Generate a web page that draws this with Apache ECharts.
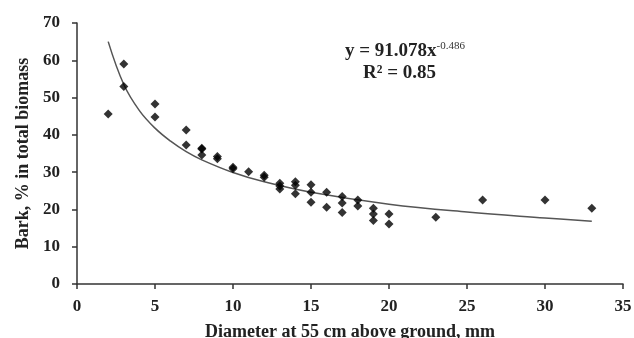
<!DOCTYPE html>
<html>
<head>
<meta charset="utf-8">
<script src="https://cdn.jsdelivr.net/npm/echarts@6/dist/echarts.min.js"></script>
<style>
  html, body { margin: 0; padding: 0; background: #fff; }
  #chart { width: 634px; height: 338px; }
</style>
</head>
<body>
<div id="chart"></div>
<script>
// measured points: diameter (mm) and bark share (%)
const diameter = [2, 3, 3, 5, 5, 7, 7, 8, 8, 8, 9, 9, 10, 10, 11, 12, 12,
  13, 13, 13, 14, 14, 14, 15, 15, 15, 16, 16, 17, 17, 17, 18, 18,
  19, 19, 19, 20, 20, 23, 26, 30, 33]
const barkShare = [45.6, 59, 53, 48.3, 44.8, 41.3, 37.3, 36.4, 36.2, 34.6, 34.2, 33.6, 31.3, 30.9, 30.1, 29.2, 28.6,
  27.0, 26.3, 25.5, 27.4, 26.5, 24.2, 26.6, 24.6, 21.9, 24.6, 20.6, 23.5, 21.7, 19.2, 22.5, 20.9,
  20.3, 18.8, 17.0, 18.8, 16.1, 17.9, 22.5, 22.5, 20.3]

// trend curve
const trendX = [2, 3, 4, 5, 6, 7, 8, 10, 12, 15, 20, 25, 30, 33]
const trendY = [65, 53.5, 46.5, 41.8, 38.3, 35.5, 33.3, 29.9, 27.4, 24.6, 21.4, 19.3, 17.7, 16.8]

const xTicks = [0, 35, 5]
const yTicks = [0, 70, 10]

const font = 'Liberation Serif'

const chart = echarts.init(document.getElementById('chart'))

const option = {
  backgroundColor: '#fff',
  animation: false,
  grid: { left: 77, right: 11, top: 23, bottom: 54, outerBoundsMode: 'none', containLabel: false },
  xAxis: {
    type: 'value',
    min: xTicks[0],
    max: xTicks[1],
    interval: xTicks[2],
    name: 'Diameter at 55 cm above ground, mm',
    nameLocation: 'middle',
    nameGap: 39,
    nameTextStyle: { fontFamily: font, fontWeight: 'bold', fontSize: 18, color: '#222' },
    axisLine: { lineStyle: { color: '#333', width: 1.5 } },
    axisTick: { length: 5, lineStyle: { color: '#333', width: 1.5 } },
    axisLabel: { margin: 14, fontFamily: font, fontWeight: 'bold', fontSize: 17, color: '#222' },
    splitLine: { show: false }
  },
  yAxis: {
    type: 'value',
    min: yTicks[0],
    max: yTicks[1],
    interval: yTicks[2],
    name: 'Bark, % in total biomass',
    nameLocation: 'middle',
    nameGap: 45,
    nameTextStyle: { fontFamily: font, fontWeight: 'bold', fontSize: 18, color: '#222' },
    axisLine: { show: true, lineStyle: { color: '#333', width: 1.5 } },
    axisTick: { show: true, length: 5, lineStyle: { color: '#333', width: 1.5 } },
    axisLabel: { margin: 17, fontFamily: font, fontWeight: 'bold', fontSize: 17, color: '#222' },
    splitLine: { show: false }
  },
  series: [
    {
      type: 'line',
      data: trendX.map((x, i) => [x, trendY[i]]),
      smooth: 0.4,
      showSymbol: false,
      lineStyle: { color: '#555', width: 1.5 },
      z: 1
    },
    {
      type: 'scatter',
      data: diameter.map((x, i) => [x, barkShare[i]]),
      symbol: 'diamond',
      symbolSize: 9,
      itemStyle: { color: '#000' },
      z: 2
    }
  ],
  graphic: [
    {
      type: 'text',
      left: 345,
      top: 41,
      style: {
        text: '{b|y = 91.078x}{s|-0.486}',
        rich: {
          b: { fontFamily: font, fontWeight: 'bold', fontSize: 19, fill: '#222' },
          s: { fontFamily: font, fontSize: 11, fill: '#333', verticalAlign: 'top', padding: [0, 0, 10, 0] }
        }
      }
    },
    {
      type: 'text',
      left: 363,
      top: 64,
      style: {
        text: 'R² = 0.85',
        fontFamily: font,
        fontWeight: 'bold',
        fontSize: 19,
        fill: '#222'
      }
    }
  ]
}

chart.setOption(option)
</script>
</body>
</html>
